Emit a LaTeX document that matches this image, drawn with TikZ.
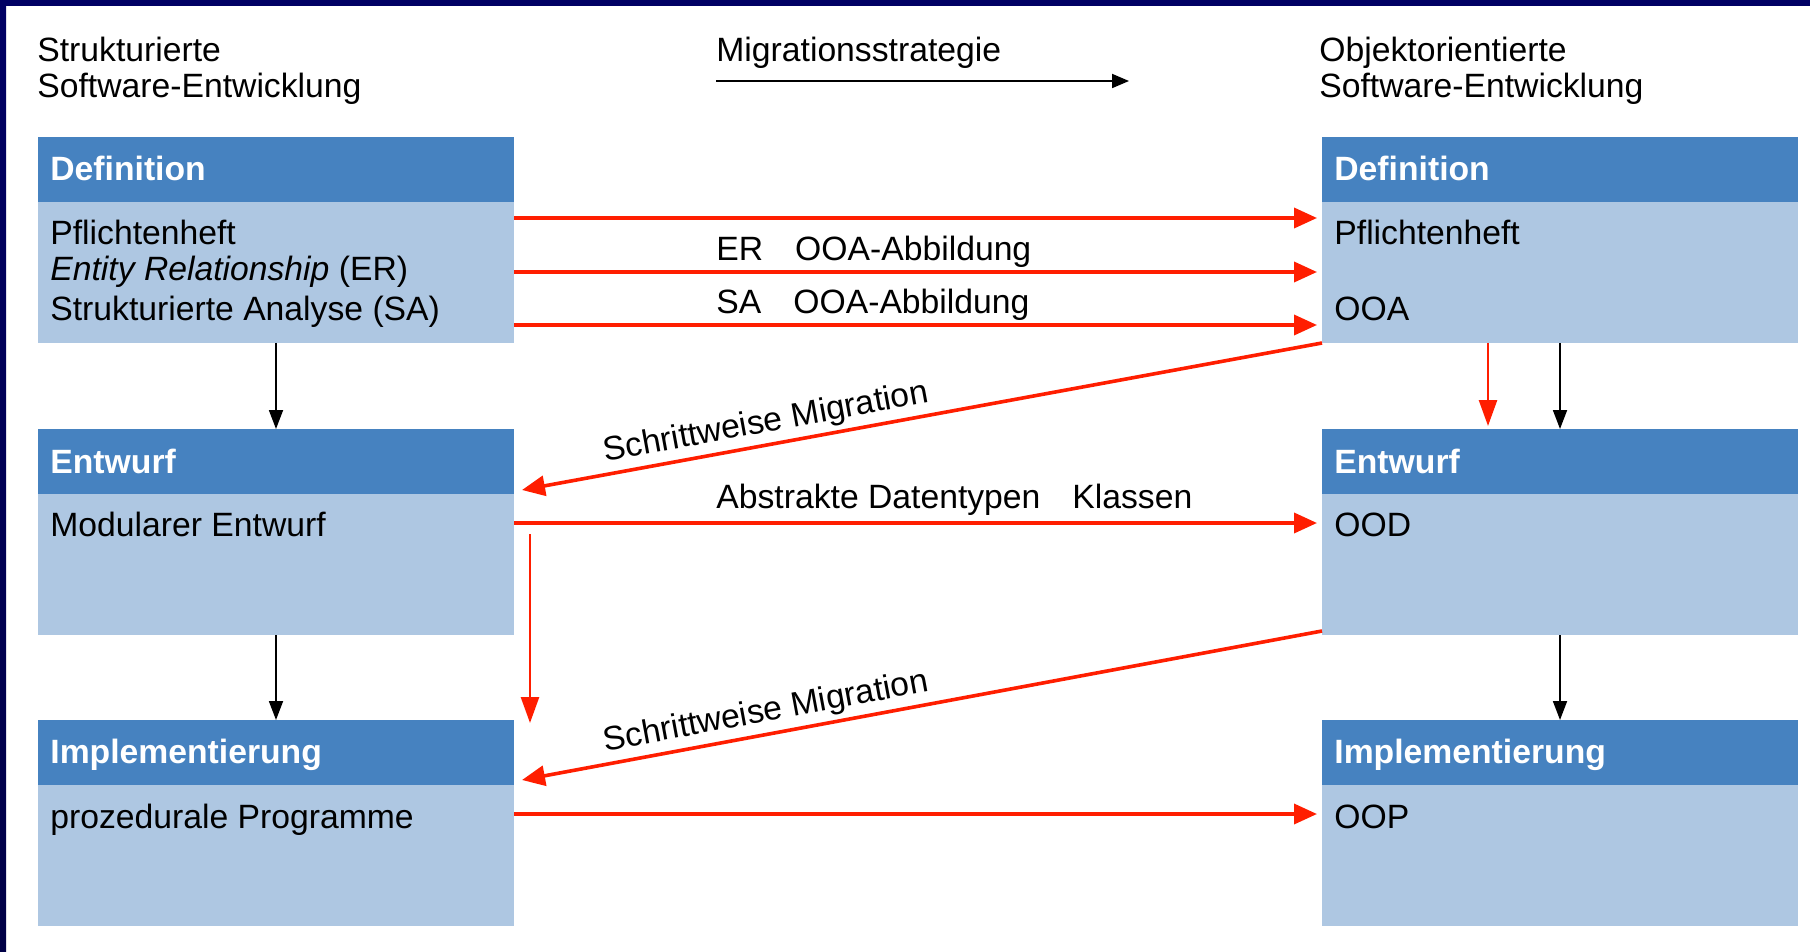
\documentclass[tikz,border=0pt]{standalone}
\usepackage{fontspec}
\setmainfont{Liberation Sans}
\usetikzlibrary{arrows.meta,calc}
\definecolor{hdrc}{RGB}{70,130,192}
\definecolor{bodyc}{RGB}{174,199,226}
\definecolor{redc}{RGB}{255,30,0}
\definecolor{navyA}{RGB}{0,0,100}
\definecolor{navyB}{RGB}{0,0,150}
\definecolor{navyC}{RGB}{0,0,70}
\newcommand{\fsz}{\fontsize{16.85pt}{20pt}\selectfont}
\begin{document}
\begin{tikzpicture}[x=0.5pt,y=-0.5pt,
  body/.style={rectangle, fill=bodyc, inner sep=0pt, outer sep=0pt, minimum width=238pt, minimum height=103pt, anchor=north west},
  hdr/.style={rectangle, fill=hdrc, inner sep=0pt, outer sep=0pt, minimum width=238pt, minimum height=32.5pt, anchor=north west},
  txt/.style={anchor=base west, inner sep=0pt, font=\fsz},
  htxt/.style={anchor=base west, inner sep=0pt, font=\fsz\bfseries, text=white},
  redthick/.style={draw=redc, line width=1.8pt, -{Triangle[length=11.5pt,width=10pt]}},
  redthin/.style={draw=redc, line width=1.3pt, -{Triangle[length=13pt,width=9pt]}},
  blk/.style={draw=black, line width=0.9pt, -{Triangle[length=9.5pt,width=7pt]}},
  migl/.style={font=\fsz, sloped, above, pos=0.69, inner sep=2pt},
]
\useasboundingbox (0,0) rectangle (1810,952);
\fill[white] (0,0) rectangle (1810,952);
\shade[top color=navyA, middle color=navyB, bottom color=navyC] (0,0) rectangle (6,952);
\fill[navyA] (0,0) rectangle (1810,6);

% boxes
\node[body] (lDef) at (38,137) {};
\node[hdr]  (lDefH) at (38,137) {};
\node[body] (lEnt) at (38,429) {};
\node[hdr]  (lEntH) at (38,429) {};
\node[body] (lImp) at (38,720) {};
\node[hdr]  (lImpH) at (38,720) {};
\node[body] (rDef) at (1322,137) {};
\node[hdr]  (rDefH) at (1322,137) {};
\node[body] (rEnt) at (1322,429) {};
\node[hdr]  (rEntH) at (1322,429) {};
\node[body] (rImp) at (1322,720) {};
\node[hdr]  (rImpH) at (1322,720) {};

% headings
\node[txt] (tStr) at (37,62) {Strukturierte};
\node[txt] (tSwL) at (37,98) {Software-Entwicklung};
\node[txt] (tMig) at (716,62) {Migrationsstrategie};
\node[txt] (tObj) at (1319,62) {Objektorientierte};
\node[txt] (tSwR) at (1319,98) {Software-Entwicklung};

% box texts left
\node[htxt] (hl1) at (50,181) {Definition};
\node[txt] (l1a) at (50,245) {Pflichtenheft};
\node[txt] (l1b) at (50,281) {\textit{Entity Relationship} (ER)};
\node[txt] (l1c) at (50,321) {Strukturierte Analyse (SA)};
\node[htxt] (hl2) at (50,473) {Entwurf};
\node[txt] (l2a) at (50,536) {Modularer Entwurf};
\node[htxt] (hl3) at (50,763) {Implementierung};
\node[txt] (l3a) at (50,828) {prozedurale Programme};

% box texts right
\node[htxt] (hr1) at (1334,181) {Definition};
\node[txt] (r1a) at (1334,245) {Pflichtenheft};
\node[txt] (r1c) at (1334,321) {OOA};
\node[htxt] (hr2) at (1334,473) {Entwurf};
\node[txt] (r2a) at (1334,536) {OOD};
\node[htxt] (hr3) at (1334,763) {Implementierung};
\node[txt] (r3a) at (1334,828) {OOP};

% middle labels
\node[txt] (mER) at (716,261) {ER\hspace{0.95em}OOA-Abbildung};
\node[txt] (mSA) at (716,314) {SA\hspace{0.95em}OOA-Abbildung};
\node[txt] (mADT) at (716,508) {Abstrakte Datentypen\hspace{0.95em}Klassen};

% helper coordinates
\coordinate (migS) at (716,81);
\coordinate (migE) at (1129,81);
\coordinate (y1) at (0,218);
\coordinate (y2) at (0,272);
\coordinate (y3) at (0,325);
\coordinate (y4) at (0,523);
\coordinate (y5) at (0,814);
\coordinate (t1) at (522,490);
\coordinate (t2) at (522,780);
\coordinate (vr) at (1488,426);
\coordinate (vl1) at (530,534);
\coordinate (vl2) at (530,723);

% strategy arrow
\draw[draw=black, line width=0.9pt, -{Triangle[length=8.5pt,width=7pt]}] (migS) -- (migE);

% red horizontal arrows
\draw[redthick, shorten >=2.5pt] (lDef.east |- y1) -- (rDef.west |- y1);
\draw[redthick, shorten >=2.5pt] (lDef.east |- y2) -- (rDef.west |- y2);
\draw[redthick, shorten >=2.5pt] (lDef.east |- y3) -- (rDef.west |- y3);
\draw[redthick, shorten >=2.5pt] (lEnt.east |- y4) -- (rEnt.west |- y4);
\draw[redthick, shorten >=2.5pt] (lImp.east |- y5) -- (rImp.west |- y5);

% stepwise migration arrows
\draw[redthick] (rDef.south west) -- node[migl] {Schrittweise Migration} (t1);
\draw[redthick] ([yshift=2pt]rEnt.south west) -- node[migl] {Schrittweise Migration} (t2);

% red vertical arrows
\draw[redthin] (rDef.south -| vr) -- (vr);
\draw[redthin] (vl1) -- (vl2);

% black vertical arrows
\draw[blk] (lDef.south) -- (lEnt.north);
\draw[blk] (lEnt.south) -- (lImp.north);
\draw[blk] (rDef.south) -- (rEnt.north);
\draw[blk] (rEnt.south) -- (rImp.north);
\end{tikzpicture}
\end{document}
